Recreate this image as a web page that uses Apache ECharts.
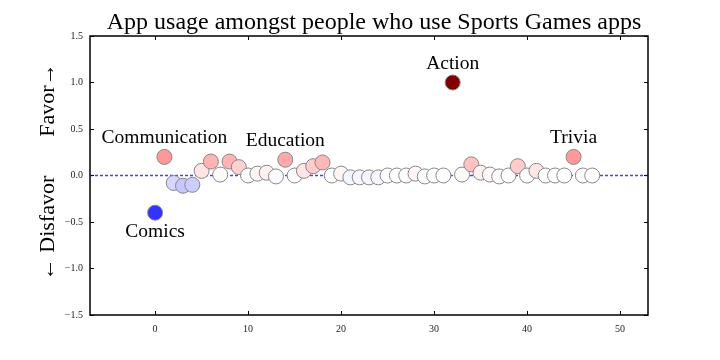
<!DOCTYPE html>
<html>
<head>
<meta charset="utf-8">
<script src="https://cdn.jsdelivr.net/npm/echarts@6/dist/echarts.min.js"></script>
<style>html,body{margin:0;padding:0;background:#fff}#c{width:720px;height:360px}</style>
</head>
<body>
<div id="c"></div>
<script>
var titleText = 'App usage amongst people who use Sports Games apps';
var appIndex = [0,1,2,3,4,5,6,7,8,9,10,11,12,13,14,15,16,17,18,19,20,21,22,23,24,25,26,27,28,29,30,31,32,33,34,35,36,37,38,39,40,41,42,43,44,45,46,47];
var favorValues = [-0.40,0.20,-0.08,-0.11,-0.10,0.05,0.15,0.01,0.15,0.09,0.00,0.02,0.03,-0.01,0.17,0.00,0.05,0.10,0.14,0.00,0.02,-0.02,-0.02,-0.02,-0.02,0.00,0.00,0.00,0.02,-0.01,0.00,0.00,1.00,0.01,0.12,0.03,0.01,-0.01,0.00,0.10,0.00,0.05,0.00,0.00,0.00,0.20,0.00,0.00];
var labeledIndex = [0,1,14,32,45];
var labeledNames = ['Comics','Communication','Education','Action','Trivia'];
var xTicks = [0,10,20,30,40,50];
var xRange = [-7,53];
var zeroLine = [0,0];

var serif = '"Liberation Serif", "DejaVu Serif", serif';

// seismic colormap stops (value range -1..1)
var cmapStops = [[0,0,77],[0,0,255],[255,255,255],[255,0,0],[128,0,0]];
function seismic(v){
  var t = Math.max(0, Math.min(1, (v + 1) / 2)) * (cmapStops.length - 1);
  var i = Math.min(Math.floor(t), cmapStops.length - 2);
  var f = t - i, a = cmapStops[i], b = cmapStops[i+1];
  return 'rgb(' + [0,1,2].map(function(k){ return Math.round(a[k] + (b[k]-a[k])*f); }).join(',') + ')';
}

var data = appIndex.map(function(x, i){
  var item = {value:[x, favorValues[i]]};
  var k = labeledIndex.indexOf(i);
  if (k >= 0) {
    item.label = {
      show:true,
      formatter: labeledNames[k],
      position: favorValues[i] < 0 ? 'bottom' : 'top',
      distance: 1,
      fontFamily: serif,
      fontSize: 19.5,
      color:'#000'
    };
  }
  return item;
});

function fmt(v){ return (v < 0 ? '\u2212' : '') + Math.abs(v).toFixed(1); }

var chart = echarts.init(document.getElementById('c'), null, {renderer:'canvas'});
chart.setOption({
  animation:false,
  backgroundColor:'#fff',
  title:{
    text:titleText, left:369, top:6, textAlign:'center',
    textStyle:{fontFamily:serif, fontSize:24, fontWeight:'normal', color:'#000'}
  },
  grid:{left:90, right:72, top:36, bottom:45, show:true, borderColor:'#000', borderWidth:1.5},
  xAxis:[{
    type:'value', min:xRange[0], max:xRange[1],
    splitLine:{show:false},
    axisLine:{show:false, onZero:false},
    axisTick:{show:true, inside:true, length:4, customValues:xTicks, lineStyle:{color:'#000'}},
    axisLabel:{customValues:xTicks, fontFamily:serif, fontSize:10, color:'#222', margin:9}
  },{
    type:'value', min:xRange[0], max:xRange[1], position:'top',
    splitLine:{show:false}, axisLine:{show:false, onZero:false},
    axisTick:{show:true, inside:true, length:4, customValues:xTicks, lineStyle:{color:'#000'}},
    axisLabel:{show:false, customValues:xTicks}
  }],
  yAxis:[{
    type:'value', min:-1.5, max:1.5, interval:0.5,
    splitLine:{show:false}, axisLine:{show:false, onZero:false},
    axisTick:{show:true, inside:true, length:4, lineStyle:{color:'#000'}},
    axisLabel:{formatter:fmt, fontFamily:serif, fontSize:10, color:'#222', margin:7}
  },{
    type:'value', min:-1.5, max:1.5, interval:0.5, position:'right',
    splitLine:{show:false}, axisLine:{show:false, onZero:false},
    axisTick:{show:true, inside:true, length:4, lineStyle:{color:'#000'}},
    axisLabel:{show:false}
  }],
  graphic:[
    {type:'text', x:48, y:100, rotation:Math.PI/2, style:{text:'Favor\u2192', font:'22px ' + serif, fill:'#000', textAlign:'center', textVerticalAlign:'middle'}},
    {type:'text', x:48, y:228, rotation:Math.PI/2, style:{text:'\u2190 Disfavor', font:'22px ' + serif, fill:'#000', textAlign:'center', textVerticalAlign:'middle'}}
  ],
  series:[{
    type:'line',
    data:[[xRange[0], zeroLine[0]],[xRange[1], zeroLine[1]]],
    symbol:'none', silent:true,
    itemStyle:{color:'#0000ff'},
    lineStyle:{color:'#0000ff', width:1.3, opacity:0.75, type:[3,2]},
    z:1
  },{
    type:'scatter',
    symbolSize:15,
    itemStyle:{
      color:function(p){ return seismic(p.value[1]); },
      borderColor:'#888', borderWidth:1, opacity:1
    },
    data:data,
    z:3
  }]
});
</script>
</body>
</html>
